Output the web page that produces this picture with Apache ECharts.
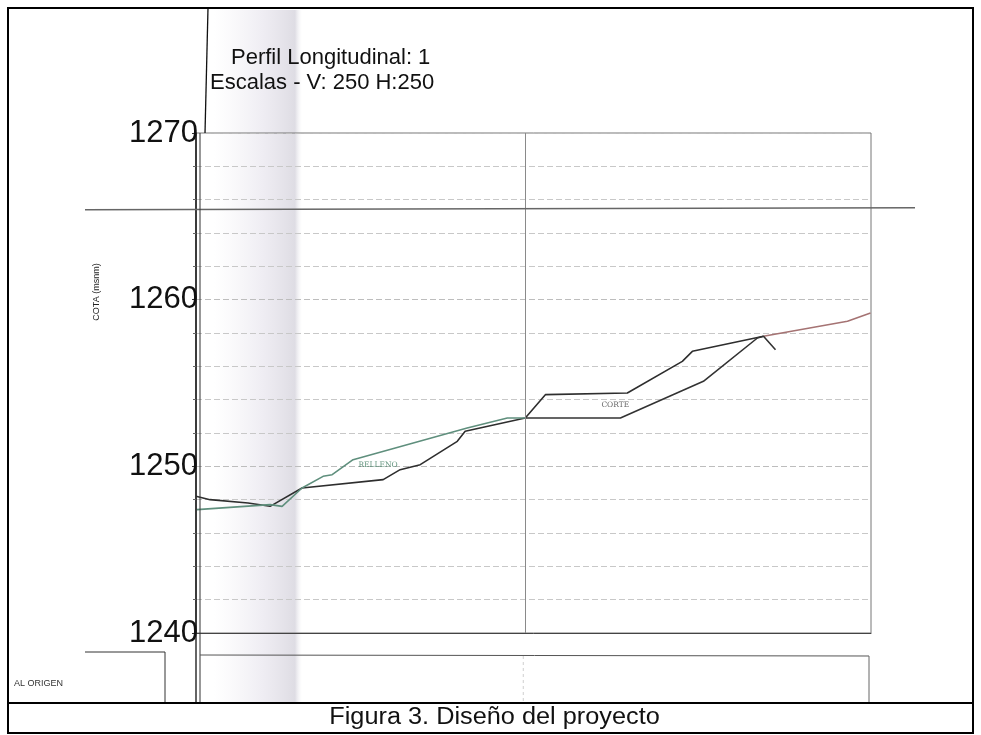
<!DOCTYPE html>
<html><head><meta charset="utf-8">
<script src="https://cdn.jsdelivr.net/npm/echarts@6/dist/echarts.min.js"></script>
<style>html,body{margin:0;padding:0;background:#fff}#c{width:981px;height:735px}</style>
</head><body><div id="c"></div>
<script>
// Distancia (m, escala arbitraria) y cota (msnm)
const terrenoX = [0, 0.85, 3.16, 4.50, 6.44, 11.37, 12.40, 13.62, 15.87, 16.35, 20.0, 21.22, 21.34, 26.2, 29.54, 30.15, 34.47, 39.57, 40.97];
const terrenoY = [1248.2, 1248.0, 1247.8, 1247.6, 1248.7, 1249.2, 1249.8, 1250.1, 1251.5, 1252.1, 1252.9, 1254.3, 1254.4, 1254.4, 1256.3, 1256.9, 1257.8, 1258.7, 1259.2];
const rasanteX = [0.06, 4.50, 5.23, 6.44, 7.72, 8.27, 9.54, 16.47, 18.91, 20.0, 25.78, 30.82, 34.10, 34.47, 35.2];
const rasanteY = [1247.4, 1247.7, 1247.6, 1248.7, 1249.4, 1249.5, 1250.4, 1252.3, 1252.9, 1252.9, 1252.9, 1255.1, 1257.7, 1257.8, 1257.0];
const etiquetas = ['RELLENO', 'CORTE'];
const etiquetasX = [11.06, 25.47];
const etiquetasY = [1250.1, 1253.7];
const yMin = 1240, yMax = 1270, yStep = 10;
const xMin = 0, xMax = 41, estacionMedia = 20;
const finCorte = 34.47;
const lineaHorizontal = 1265.4;
const titulo1 = 'Perfil Longitudinal: 1';
const titulo2 = 'Escalas - V: 250 H:250';
const ejeY = 'COTA (msnm)';
const origen = 'AL ORIGEN';
const caption = 'Figura 3. Diseño del proyecto';

const zip = (a, b) => a.map((v, i) => [v, b[i]]);
const FONT = 'Liberation Sans, Arial, sans-serif';
const terreno = zip(terrenoX, terrenoY);
const rasante = zip(rasanteX, rasanteY);
const part = (arr, lo, hi) => arr.filter(p => p[0] >= lo && p[0] <= hi);

function lineSeries(name, data, color, z, extra) {
  return Object.assign({ name, type: 'line', data, symbol: 'none', z,
    lineStyle: { width: 1.6, color }, itemStyle: { color } }, extra || {});
}

const chart = echarts.init(document.getElementById('c'));
chart.setOption({
  backgroundColor: '#fff',
  animation: false,
  title: [
    { text: titulo1, left: 226, top: 42, textStyle: { fontFamily: FONT, fontSize: 22, fontWeight: 'normal', color: '#111' } },
    { text: titulo2, left: 205, top: 67, textStyle: { fontFamily: FONT, fontSize: 22, fontWeight: 'normal', color: '#111' } }
  ],
  grid: { left: 196, right: 110, top: 133, bottom: 102, show: true, borderColor: '#777', borderWidth: 1 },
  xAxis: {
    type: 'value', min: xMin, max: xMax,
    axisLine: { show: true, lineStyle: { color: '#444', width: 1 } },
    axisTick: { show: false }, axisLabel: { show: false }, splitLine: { show: false }
  },
  yAxis: {
    type: 'value', min: yMin, max: yMax, interval: yStep,
    axisLine: { show: true, lineStyle: { color: '#111', width: 1.5 } },
    axisTick: { show: true, length: 4, lineStyle: { color: '#333' } },
    minorTick: { show: true, splitNumber: 5, length: 3, lineStyle: { color: '#666' } },
    axisLabel: { fontFamily: FONT, fontSize: 31, color: '#111', margin: -2, formatter: v => String(v) },
    splitLine: { show: true, lineStyle: { color: '#bdbdbd', width: 1, type: [6, 3] } },
    minorSplitLine: { show: true, lineStyle: { color: '#c8c8c8', width: 1, type: [6, 3] } }
  },
  series: [
    lineSeries('Terreno', part(terreno, xMin, finCorte), '#2e2e2e', 3, {
      markLine: {
        silent: true, symbol: 'none', label: { show: false },
        lineStyle: { color: '#8a8a8a', width: 1, type: 'solid' },
        data: [{ xAxis: estacionMedia }]
      }
    }),
    lineSeries('Terreno (continuación)', part(terreno, finCorte, xMax), '#a57373', 3),
    lineSeries('Rasante (relleno)', part(rasante, xMin, estacionMedia), '#5f8f7d', 4),
    lineSeries('Rasante (corte)', part(rasante, estacionMedia, xMax), '#333333', 4),
    {
      name: 'Etiquetas', type: 'scatter', symbolSize: 1, silent: true, z: 5,
      itemStyle: { color: 'rgba(0,0,0,0)' },
      data: etiquetas.map((t, i) => ({
        value: [etiquetasX[i], etiquetasY[i]],
        label: { color: i === 0 ? '#3d7a5f' : '#444' }
      })),
      label: {
        show: true, position: 'inside', fontFamily: 'DejaVu Serif, serif', fontSize: 7.5,
        formatter: p => etiquetas[p.dataIndex]
      }
    }
  ]
});

const x0 = chart.convertToPixel({ xAxisIndex: 0 }, xMin);
const xR = chart.convertToPixel({ xAxisIndex: 0 }, xMax);
const xM = chart.convertToPixel({ xAxisIndex: 0 }, estacionMedia);
const yH = chart.convertToPixel({ yAxisIndex: 0 }, lineaHorizontal);
const yB = chart.convertToPixel({ yAxisIndex: 0 }, yMin);
const yT = chart.convertToPixel({ yAxisIndex: 0 }, yMax);
const W = 981, H = 735;

chart.setOption({
  graphic: [
    { type: 'rect', z: -10, silent: true, shape: { x: x0 + 18, y: 10, width: 88, height: 692 },
      style: { fill: new echarts.graphic.LinearGradient(0, 0, 1, 0, [
        { offset: 0, color: 'rgba(225,222,232,0)' },
        { offset: 0.55, color: 'rgba(215,210,225,0.4)' },
        { offset: 0.92, color: 'rgba(195,192,205,0.55)' },
        { offset: 1, color: 'rgba(230,230,235,0)' }]) } },
    { type: 'rect', z: 100, silent: true, shape: { x: 8, y: 8, width: W - 16, height: H - 10 },
      style: { fill: null, stroke: '#000', lineWidth: 2 } },
    { type: 'line', z: 100, silent: true, shape: { x1: 8, y1: 703, x2: W - 8, y2: 703 },
      style: { stroke: '#000', lineWidth: 2 } },
    { type: 'text', z: 100, silent: true, x: W / 2 + 4, y: 718, scaleX: 1.1,
      style: { text: caption, font: '23px ' + FONT, fill: '#111', align: 'center', verticalAlign: 'middle' } },
    { type: 'line', z: 50, silent: true, shape: { x1: 85, y1: yH, x2: 915, y2: yH - 2 },
      style: { stroke: '#666', lineWidth: 1.5 } },
    { type: 'line', z: 50, silent: true, shape: { x1: x0 + 12, y1: 8, x2: x0 + 9, y2: yT },
      style: { stroke: '#111', lineWidth: 1.3 } },
    { type: 'line', z: 50, silent: true, shape: { x1: x0, y1: yB, x2: x0, y2: 703 },
      style: { stroke: '#111', lineWidth: 1.3 } },
    { type: 'line', z: 50, silent: true, shape: { x1: x0 + 4, y1: yT, x2: x0 + 4, y2: 703 },
      style: { stroke: '#333', lineWidth: 1 } },
    { type: 'line', z: 50, silent: true, shape: { x1: 85, y1: 652, x2: 165, y2: 652 },
      style: { stroke: '#333', lineWidth: 1 } },
    { type: 'line', z: 50, silent: true, shape: { x1: 165, y1: 652, x2: 165, y2: 703 },
      style: { stroke: '#333', lineWidth: 1 } },
    { type: 'line', z: 50, silent: true, shape: { x1: x0 + 4, y1: 655, x2: xR - 2, y2: 656 },
      style: { stroke: '#555', lineWidth: 1 } },
    { type: 'line', z: 50, silent: true, shape: { x1: xR - 2, y1: 656, x2: xR - 2, y2: 703 },
      style: { stroke: '#666', lineWidth: 1 } },
    { type: 'line', z: 50, silent: true, shape: { x1: xM - 2, y1: 656, x2: xM - 2, y2: 703 },
      style: { stroke: '#d0d0d0', lineWidth: 1, lineDash: [3, 3] } },
    { type: 'text', z: 50, silent: true, x: 14, y: 684,
      style: { text: origen, font: '9px ' + FONT, fill: '#333', verticalAlign: 'middle' } },
    { type: 'text', z: 50, silent: true, x: 97, y: 292, rotation: Math.PI / 2,
      style: { text: ejeY, font: '9px ' + FONT, fill: '#222', align: 'center', verticalAlign: 'middle' } }
  ]
});
</script>
</body></html>
